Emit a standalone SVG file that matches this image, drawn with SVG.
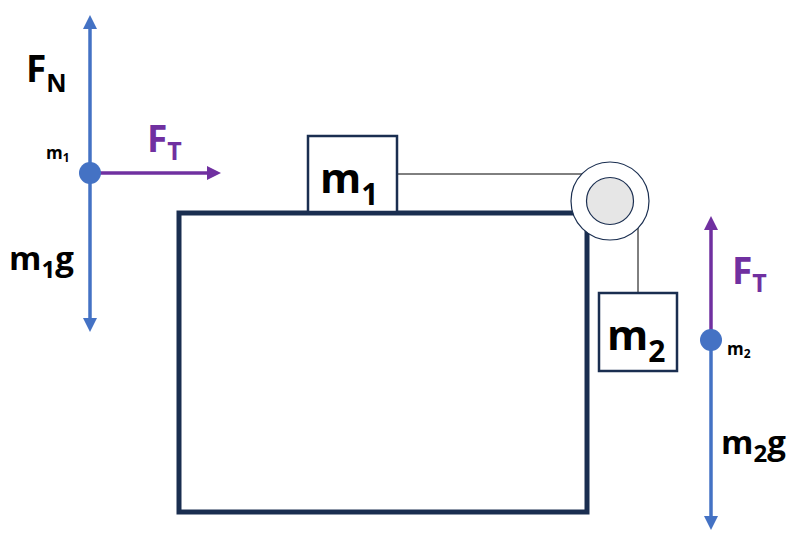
<svg xmlns="http://www.w3.org/2000/svg" width="797" height="541" viewBox="0 0 797 541">
<style>
text{font-family:"Open Sans","Liberation Sans",sans-serif;font-weight:bold;fill:#000}
.p{fill:#7030a0}
.box{fill:#fff;stroke:#1a2e50;stroke-width:2.5}
.str{stroke:#000;stroke-width:1;fill:none}
.b{stroke:#4472c4;stroke-width:3.5;fill:none}
.v{stroke:#7030a0;stroke-width:3.5;fill:none}
</style>
<defs>
<marker id="ab" markerWidth="4" markerHeight="4" refX="2" refY="2" orient="auto" markerUnits="strokeWidth"><path d="M0,0L4,2L0,4z" fill="#4472c4"/></marker>
<marker id="av" markerWidth="4" markerHeight="4" refX="2" refY="2" orient="auto" markerUnits="strokeWidth"><path d="M0,0L4,2L0,4z" fill="#7030a0"/></marker>
</defs>
<g id="connectors">
<line class="str" x1="397" y1="174" x2="610" y2="174"/>
<line class="str" x1="638" y1="215" x2="638" y2="293"/>
<line class="b" x1="90" y1="173" x2="90" y2="22" marker-end="url(#ab)"/>
<line class="b" x1="90" y1="173" x2="90" y2="325" marker-end="url(#ab)"/>
<line class="v" x1="90" y1="173" x2="214" y2="173" marker-end="url(#av)"/>
<line class="v" x1="711" y1="340" x2="711" y2="223" marker-end="url(#av)"/>
<line class="b" x1="711" y1="340" x2="711" y2="523" marker-end="url(#ab)"/>
</g>
<g id="table"><rect x="179" y="213" width="408" height="299" fill="#fff" stroke="#1a2e50" stroke-width="5"/></g>
<g id="pulley">
<circle cx="610" cy="201" r="39" fill="#fff" stroke="#1a2e50" stroke-width="1.2"/>
<circle cx="610" cy="201" r="23.5" fill="#e6e6e6" stroke="#1a2e50" stroke-width="1.2"/>
</g>
<g id="m1box"><rect class="box" x="308" y="136" width="89" height="76"/>
<text x="320" y="193" font-size="42">m<tspan font-size="30" dy="12">1</tspan></text></g>
<g id="m2box"><rect class="box" x="599" y="293" width="78" height="78"/>
<text x="607" y="350" font-size="42">m<tspan font-size="30" dy="12">2</tspan></text></g>
<g id="fbd1">
<circle cx="90" cy="173" r="11" fill="#4472c4"/>
<text x="26" y="82" font-size="37">F<tspan font-size="25" dy="10">N</tspan></text>
<text x="46" y="159" font-size="17">m<tspan font-size="12" dy="3">1</tspan></text>
<text x="147" y="152" font-size="37" class="p">F<tspan font-size="25" dy="8">T</tspan></text>
<text x="9" y="270" font-size="33">m<tspan font-size="24" dy="8">1</tspan><tspan dy="-8">g</tspan></text>
</g>
<g id="fbd2">
<circle cx="711" cy="340" r="11" fill="#4472c4"/>
<text x="732" y="284" font-size="37" class="p">F<tspan font-size="25" dy="8">T</tspan></text>
<text x="727" y="355" font-size="17">m<tspan font-size="12" dy="3">2</tspan></text>
<text x="721" y="454" font-size="33">m<tspan font-size="24" dy="8">2</tspan><tspan dy="-8">g</tspan></text>
</g>
</svg>
